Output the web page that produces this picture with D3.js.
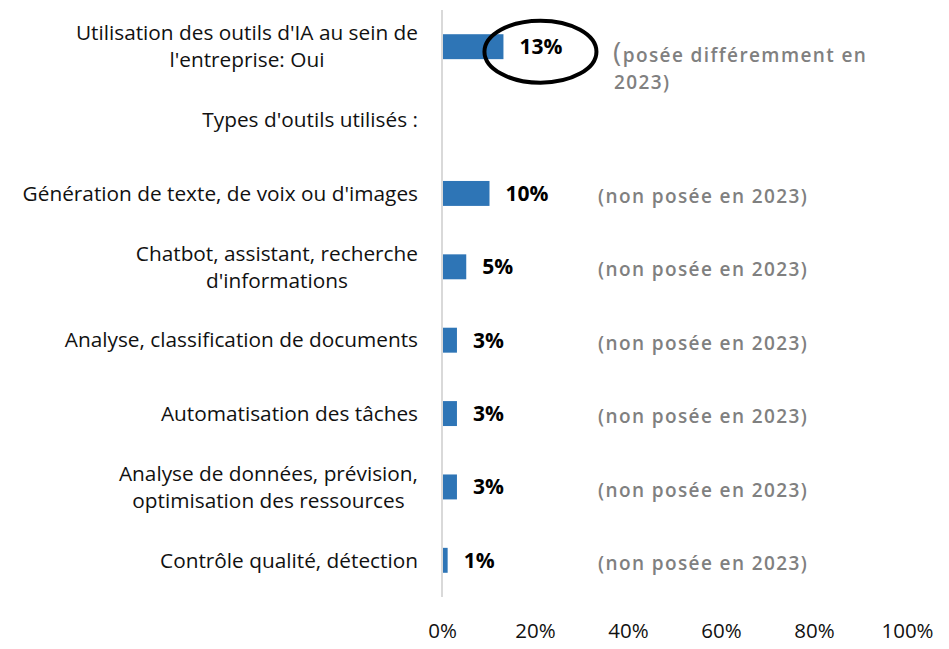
<!DOCTYPE html>
<html>
<head>
<meta charset="utf-8">
<script src="https://cdn.jsdelivr.net/npm/d3@7"></script>
<style>
  html, body { margin: 0; padding: 0; background: #fff; }
  svg { display: block; }
</style>
</head>
<body>
<svg id="chart" width="949" height="649"></svg>
<script>
// Categories (each entry is a list of label lines)
const categories = [
  ["Utilisation des outils d'IA au sein de", "l'entreprise: Oui"],
  ["Types d'outils utilisés :"],
  ["Génération de texte, de voix ou d'images"],
  ["Chatbot, assistant, recherche", "d'informations"],
  ["Analyse, classification de documents"],
  ["Automatisation des tâches"],
  ["Analyse de données, prévision,", "optimisation des ressources"],
  ["Contrôle qualité, détection"]
];
// Share of companies (null = heading row without a bar)
const values = [13, null, 10, 5, 3, 3, 3, 1];
// Notes on comparability with 2023
const notes = [
  ["(posée différemment en", "2023)"],
  null,
  ["(non posée en 2023)"],
  ["(non posée en 2023)"],
  ["(non posée en 2023)"],
  ["(non posée en 2023)"],
  ["(non posée en 2023)"],
  ["(non posée en 2023)"]
];
const tickValues = [0, 20, 40, 60, 80, 100];

const svg = d3.select("#chart");
const labelFont = "'Open Sans', Lato, sans-serif";
const noteFont = "'Open Sans', Lato, sans-serif";

const x = d3.scaleLinear().domain([0, 100]).range([442, 907]);
const y = d3.scaleBand().domain(d3.range(categories.length)).range([10, 597]).paddingInner(0.66).paddingOuter(0.33);

// vertical baseline
svg.append("line")
  .attr("x1", x(0)).attr("x2", x(0))
  .attr("y1", 10).attr("y2", 597)
  .attr("stroke", "#d9d9d9").attr("stroke-width", 2);

// bars
const rows = categories.map((c, i) => ({ i, lines: c, v: values[i], note: notes[i] }));
svg.append("g").selectAll("rect")
  .data(rows.filter(d => d.v !== null))
  .join("rect")
  .attr("x", x(0) + 1)
  .attr("y", d => y(d.i))
  .attr("width", d => x(d.v) - x(0))
  .attr("height", y.bandwidth())
  .attr("fill", "#2e75b6");

// category labels
const lineH = 27;
const lab = svg.append("g").selectAll("text")
  .data(rows)
  .join("text")
  .attr("text-anchor", "middle")
  .attr("font-family", labelFont)
  .attr("font-size", 20.8)
  .attr("fill", "#111");
lab.each(function(d) {
  const cy = y(d.i) + y.bandwidth() / 2;
  const n = d.lines.length;
  const t = d3.select(this);
  d.lines.forEach((ln, k) => {
    t.append("tspan")
      .attr("x", 0)
      .attr("y", cy + (k - (n - 1) / 2) * lineH)
      .attr("dy", "0.35em")
      .text(ln);
  });
});
// right-align each label block while centring its lines on each other
lab.each(function(d) {
  const w = this.getBBox().width;
  const cx = x(0) - 24 - w / 2;
  d3.select(this).selectAll("tspan").attr("x", cx);
});

// value labels
svg.append("g").selectAll("text")
  .data(rows.filter(d => d.v !== null))
  .join("text")
  .attr("x", d => x(d.v) + 17)
  .attr("y", d => y(d.i) + y.bandwidth() / 2)
  .attr("dy", "0.35em")
  .attr("font-family", labelFont)
  .attr("font-weight", "bold")
  .attr("font-size", 21)
  .attr("fill", "#000")
  .text(d => d.v + "%");

// ellipse around the headline figure
const r0 = rows[0];
svg.append("ellipse")
  .attr("cx", x(r0.v) + 38)
  .attr("cy", y(0) + y.bandwidth() / 2 + 5)
  .attr("rx", 56).attr("ry", 31)
  .attr("fill", "none")
  .attr("stroke", "#000")
  .attr("stroke-width", 4);

// notes
svg.append("g").selectAll("text")
  .data(rows.filter(d => d.note))
  .join("text")
  .attr("font-family", noteFont)
  .attr("font-weight", 600)
  .attr("font-size", 19)
  .attr("letter-spacing", 1.4)
  .attr("fill", "#808080")
  .each(function(d) {
    const t = d3.select(this);
    const cy = y(d.i) + y.bandwidth() / 2;
    if (d.note.length === 1) {
      t.append("tspan").attr("x", 598).attr("y", cy + 3).attr("dy", "0.35em").text(d.note[0]);
    } else {
      const first = d.note[0];
      t.append("tspan").attr("x", 613).attr("y", cy + 6).attr("dy", "0.35em")
        .attr("font-size", 28).attr("font-weight", 400).text(first[0]);
      t.append("tspan").attr("dy", "-0.05em").attr("font-size", 19).attr("font-weight", 600).text(first.slice(1));
      t.append("tspan").attr("x", 614).attr("y", cy + 36).attr("dy", "0.35em").text(d.note[1]);
    }
  });

// x axis
const axis = d3.axisBottom(x).tickValues(tickValues).tickFormat(d => d + "%").tickSize(0).tickPadding(0);
const ax = svg.append("g").attr("transform", "translate(0,623)").call(axis);
ax.select(".domain").remove();
ax.selectAll("text")
  .attr("font-family", labelFont)
  .attr("font-size", 20.5)
  .attr("fill", "#111");
</script>
</body>
</html>
